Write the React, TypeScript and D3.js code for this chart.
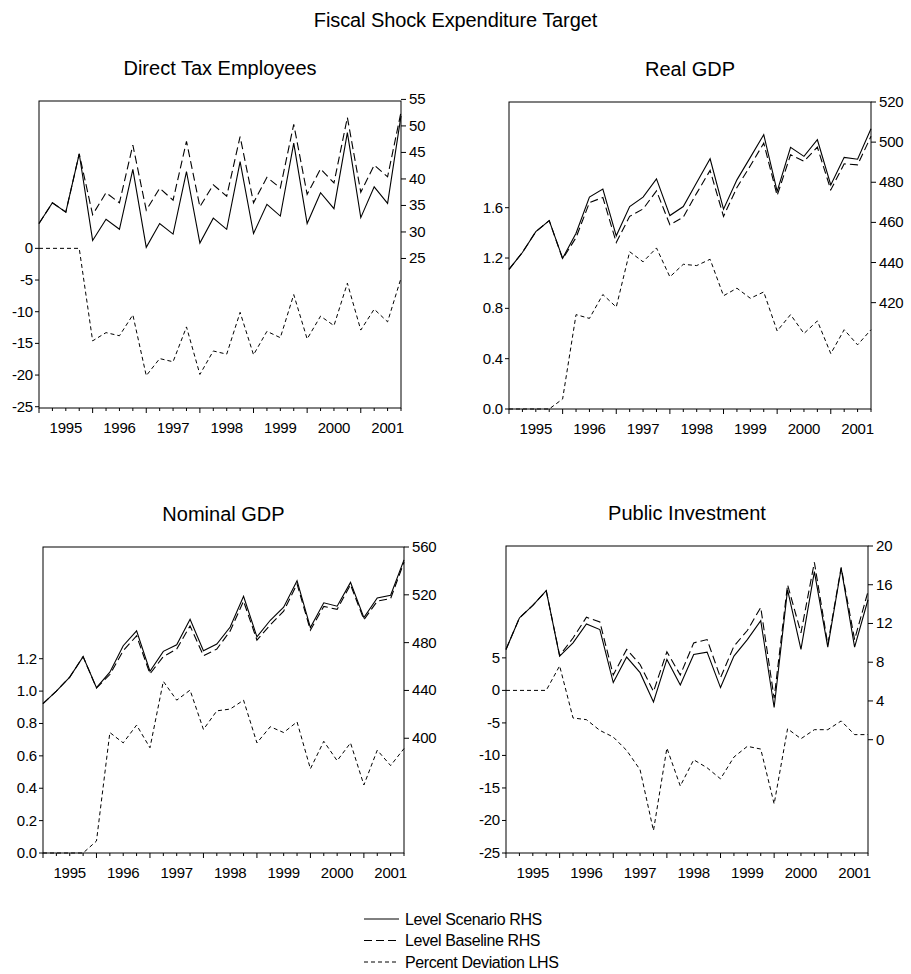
import * as d3 from 'd3';

const years = ['1995', '1996', '1997', '1998', '1999', '2000', '2001'];
const quarters = years.flatMap((y) => ['Q1', 'Q2', 'Q3', 'Q4'].map((q) => `${y}${q}`));

// Direct Tax Employees
const taxScenario = [31.6, 35.5, 33.75, 44.75, 28.4, 32.4, 30.5, 41.8, 27.1, 31.6, 29.6, 41.4, 27.9, 32.6, 30.5, 43.25, 29.7, 35.2, 33.0, 46.75, 31.6, 37.4, 34.4, 48.75, 32.7, 38.5, 35.4, 51.9];
const taxBaseline = [31.6, 35.5, 33.75, 44.75, 33.25, 37.4, 35.5, 46.4, 34.1, 38.25, 36.0, 47.1, 34.75, 38.9, 36.75, 48.0, 35.5, 40.3, 38.3, 50.3, 37.1, 41.9, 39.25, 51.6, 37.5, 42.6, 40.4, 52.6];
const taxDeviation = [0, 0, 0, 0, -14.6, -13.3, -13.8, -10.5, -20.1, -17.4, -17.9, -12.4, -19.9, -16.2, -16.7, -10.1, -16.8, -13.1, -14.1, -7.3, -14.3, -10.7, -12.2, -5.5, -12.9, -9.6, -11.6, -4.7];

// Real GDP
const realScenario = [436.6, 445.0, 455.4, 460.9, 442.1, 454.6, 472.6, 476.6, 453.3, 467.9, 472.6, 481.7, 463.4, 467.9, 479.9, 491.7, 466.6, 481.2, 492.4, 503.7, 475.4, 497.4, 492.9, 501.2, 478.7, 492.4, 491.5, 506.7];
const realBaseline = [436.6, 445.0, 455.4, 460.9, 441.8, 452.4, 469.9, 472.4, 450.0, 463.0, 466.7, 475.7, 458.8, 462.6, 474.6, 485.9, 463.0, 477.4, 488.2, 499.5, 473.4, 493.7, 490.4, 497.5, 476.2, 489.2, 488.7, 502.9];
const realDeviation = [0, 0, 0, 0, 0.08, 0.75, 0.72, 0.91, 0.81, 1.25, 1.17, 1.28, 1.05, 1.15, 1.14, 1.19, 0.9, 0.96, 0.88, 0.93, 0.62, 0.75, 0.6, 0.7, 0.44, 0.63, 0.51, 0.63];

// Nominal GDP
const nomScenario = [429.0, 439.5, 451.1, 468.3, 442.3, 455.3, 477.4, 489.8, 456.1, 472.7, 478.2, 499.5, 473.2, 478.8, 493.1, 518.8, 484.8, 498.7, 509.7, 531.8, 492.6, 513.3, 510.5, 530.4, 500.9, 517.4, 519.7, 549.2];
const nomBaseline = [429.0, 439.5, 451.1, 468.3, 442.0, 453.3, 473.2, 485.7, 453.9, 468.3, 474.6, 494.0, 469.1, 474.6, 489.8, 514.7, 482.1, 494.8, 506.4, 529.1, 490.4, 510.3, 507.8, 528.5, 499.2, 514.7, 516.9, 547.3];
const nomDeviation = [0, 0, 0, 0, 0.074, 0.744, 0.68, 0.79, 0.65, 1.06, 0.944, 1.006, 0.763, 0.878, 0.889, 0.944, 0.68, 0.78, 0.744, 0.81, 0.52, 0.69, 0.57, 0.68, 0.42, 0.635, 0.54, 0.645];

// Public Investment
const pubScenario = [9.32, 12.57, 13.87, 15.38, 8.63, 10.0, 11.95, 11.37, 5.9, 8.53, 6.92, 3.9, 8.29, 5.65, 8.8, 9.04, 5.38, 8.63, 10.34, 12.3, 3.32, 15.48, 9.32, 17.36, 9.55, 17.7, 9.55, 14.45];
const pubBaseline = [9.32, 12.57, 13.87, 15.38, 8.7, 10.5, 12.64, 12.16, 6.68, 9.32, 7.77, 4.97, 9.08, 6.68, 10.0, 10.34, 6.4, 9.66, 11.27, 13.66, 4.28, 16.0, 11.03, 18.32, 9.83, 17.8, 10.34, 15.3];
const pubDeviation = [0, 0, 0, 0, 3.77, -4.24, -4.5, -6.15, -7.17, -9.23, -12.2, -21.55, -8.87, -14.7, -10.67, -11.9, -13.6, -10.25, -8.6, -9.02, -17.45, -5.9, -7.43, -6.04, -6.04, -4.7, -6.8, -6.8];

const taxLeftTicks = [-25, -20, -15, -10, -5, 0];
const taxRightTicks = [25, 30, 35, 40, 45, 50, 55];
const realLeftTicks = [0, 0.4, 0.8, 1.2, 1.6];
const realRightTicks = [420, 440, 460, 480, 500, 520];
const nomLeftTicks = [0, 0.2, 0.4, 0.6, 0.8, 1.0, 1.2];
const nomRightTicks = [400, 440, 480, 520, 560];
const pubLeftTicks = [-25, -20, -15, -10, -5, 0, 5];
const pubRightTicks = [0, 4, 8, 12, 16, 20];

const legendLabels = ['Level Scenario RHS', 'Level Baseline RHS', 'Percent Deviation LHS'];

const FONT = '"Liberation Sans", Arial, sans-serif';
const DASH_BASE = '8,4';
const DASH_DEV = '4,3';

interface PanelProps {
  title: string;
  box: { left: number; top: number; right: number; bottom: number };
  leftDomain: [number, number];
  rightDomain: [number, number];
  leftTicks: number[];
  rightTicks: number[];
  leftFormat: (v: number) => string;
  scenario: number[];
  baseline: number[];
  deviation: number[];
}

const Panel = ({ title, box, leftDomain, rightDomain, leftTicks, rightTicks, leftFormat, scenario, baseline, deviation }: PanelProps) => {
  const x = d3.scalePoint<string>().domain(quarters).range([box.left, box.right]);
  const yL = d3.scaleLinear().domain(leftDomain).range([box.bottom, box.top]);
  const yR = d3.scaleLinear().domain(rightDomain).range([box.bottom, box.top]);
  const step = x.step();

  const lineR = d3
    .line<number>()
    .x((_, i) => x(quarters[i])!)
    .y((d) => yR(d));
  const lineL = d3
    .line<number>()
    .x((_, i) => x(quarters[i])!)
    .y((d) => yL(d));

  return (
    <g>
      <text x={(box.left + box.right) / 2} y={box.top - 26} textAnchor="middle" fontSize={20}>
        {title}
      </text>
      <path d={lineL(deviation)!} fill="none" stroke="#000" strokeWidth={1} strokeDasharray={DASH_DEV} />
      <path d={lineR(baseline)!} fill="none" stroke="#000" strokeWidth={1.1} strokeDasharray={DASH_BASE} />
      <path d={lineR(scenario)!} fill="none" stroke="#000" strokeWidth={1.1} />
      <rect x={box.left} y={box.top} width={box.right - box.left} height={box.bottom - box.top} fill="none" stroke="#000" strokeWidth={1} />
      {leftTicks.map((t) => (
        <g key={`l${t}`}>
          <line x1={box.left - 4} x2={box.left} y1={yL(t)} y2={yL(t)} stroke="#000" />
          <text x={box.left - 6} y={yL(t) + 5} textAnchor="end" fontSize={15} letterSpacing={-0.2}>
            {leftFormat(t)}
          </text>
        </g>
      ))}
      {rightTicks.map((t) => (
        <g key={`r${t}`}>
          <line x1={box.right} x2={box.right + 5} y1={yR(t)} y2={yR(t)} stroke="#000" />
          <text x={box.right + 8} y={yR(t) + 5} textAnchor="start" fontSize={15} letterSpacing={-0.2}>
            {String(t)}
          </text>
        </g>
      ))}
      {quarters.map((q, i) => (
        <line key={q} x1={x(q)} x2={x(q)} y1={box.bottom} y2={box.bottom + (i % 4 === 0 ? 5 : 3)} stroke="#000" />
      ))}
      {years.map((yr) => (
        <text key={yr} x={x(`${yr}Q1`)! + 2 * step} y={box.bottom + 25} textAnchor="middle" fontSize={15} letterSpacing={-0.2}>
          {yr}
        </text>
      ))}
    </g>
  );
};

const intFmt = (v: number) => String(v);
const decFmt = (v: number) => v.toFixed(1);

export default function App() {
  return (
    <svg width={911} height={974} style={{ position: 'absolute', left: 0, top: 0, background: '#fff' }} fontFamily={FONT}>
      <rect width={911} height={974} fill="#fff" />
      <text x={455.5} y={27} textAnchor="middle" fontSize={20} letterSpacing={-0.1}>
        Fiscal Shock Expenditure Target
      </text>
      <Panel
        title="Direct Tax Employees"
        box={{ left: 39, top: 101, right: 401, bottom: 408 }}
        leftDomain={[-25.2, 23.26]}
        rightDomain={[-3.2, 54.7]}
        leftTicks={taxLeftTicks}
        rightTicks={taxRightTicks}
        leftFormat={intFmt}
        scenario={taxScenario}
        baseline={taxBaseline}
        deviation={taxDeviation}
      />
      <Panel
        title="Real GDP"
        box={{ left: 509, top: 102, right: 871, bottom: 409 }}
        leftDomain={[0, 2.44]}
        rightDomain={[367, 520]}
        leftTicks={realLeftTicks}
        rightTicks={realRightTicks}
        leftFormat={decFmt}
        scenario={realScenario}
        baseline={realBaseline}
        deviation={realDeviation}
      />
      <Panel
        title="Nominal GDP"
        box={{ left: 43, top: 547, right: 404, bottom: 853 }}
        leftDomain={[0, 1.89]}
        rightDomain={[304, 560]}
        leftTicks={nomLeftTicks}
        rightTicks={nomRightTicks}
        leftFormat={decFmt}
        scenario={nomScenario}
        baseline={nomBaseline}
        deviation={nomDeviation}
      />
      <Panel
        title="Public Investment"
        box={{ left: 506, top: 546, right: 868, bottom: 853 }}
        leftDomain={[-25, 22.2]}
        rightDomain={[-11.7, 20]}
        leftTicks={pubLeftTicks}
        rightTicks={pubRightTicks}
        leftFormat={intFmt}
        scenario={pubScenario}
        baseline={pubBaseline}
        deviation={pubDeviation}
      />
      {legendLabels.map((label, i) => {
        const cy = 919 + i * 21.5;
        const dash = i === 0 ? undefined : i === 1 ? DASH_BASE : DASH_DEV;
        return (
          <g key={label}>
            <line x1={364} x2={399} y1={cy} y2={cy} stroke="#000" strokeWidth={1} strokeDasharray={dash} />
            <text x={405} y={cy + 5.5} fontSize={16} letterSpacing={-0.4}>
              {label}
            </text>
          </g>
        );
      })}
    </svg>
  );
}
